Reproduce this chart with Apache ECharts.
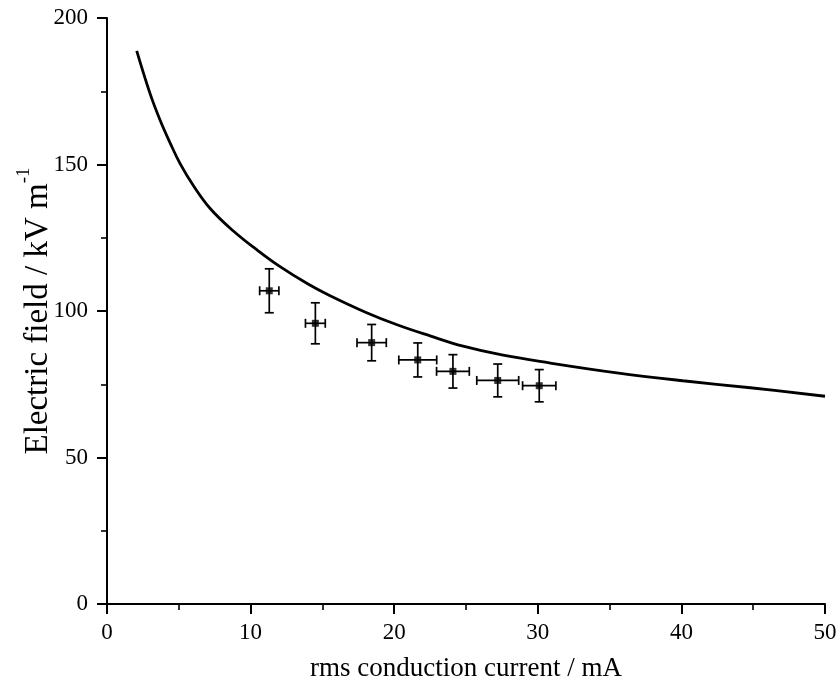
<!DOCTYPE html>
<html>
<head>
<meta charset="utf-8">
<script src="https://cdn.jsdelivr.net/npm/echarts@6/dist/echarts.min.js"></script>
<style>
html,body{margin:0;padding:0;background:#fff;}
#chart{width:838px;height:689px;}
</style>
</head>
<body>
<div id="chart"></div>
<script>
// Model curve
var curveX = [2.07, 3.0, 3.7, 4.4, 5.1, 6.0, 7.2, 8.8, 10.4, 12.0, 14.0, 15.5, 18.0, 20.2, 22.5, 24.8, 27.5, 30.8, 35.5, 40.1, 44.8, 50];
var curveY = [188.8, 174.2, 165.1, 157.3, 150.2, 142.9, 134.9, 127.3, 121.0, 115.3, 109.2, 105.3, 99.6, 95.3, 91.5, 88.0, 85.0, 82.3, 78.9, 76.2, 73.8, 70.9];

// Measured points
var measX = [11.30, 14.51, 18.43, 21.64, 24.09, 27.21, 30.10];
var measY = [106.9, 95.8, 89.2, 83.3, 79.4, 76.3, 74.5];
var errX  = [0.67, 0.69, 1.02, 1.32, 1.14, 1.46, 1.16];
var errY  = [7.5, 7.0, 6.2, 5.8, 5.7, 5.6, 5.5];

var xTicks = [0, 10, 20, 30, 40, 50];
var yTicks = [0, 50, 100, 150, 200];

var curveData = curveX.map(function (x, i) { return [x, curveY[i]]; });
var pointData = measX.map(function (x, i) { return [x, measY[i]]; });
var errData = measX.map(function (x, i) { return [x, measY[i], errX[i], errY[i]]; });

var FONT = '"Liberation Serif", "Times New Roman", serif';
var chart = echarts.init(document.getElementById('chart'), null, {renderer: 'canvas'});

function errRender(params, api) {
  var x = api.value(0), y = api.value(1), ex = api.value(2), ey = api.value(3);
  var l = api.coord([x - ex, y]), r = api.coord([x + ex, y]);
  var t = api.coord([x, y + ey]), b = api.coord([x, y - ey]);
  var cap = 4.5;
  var st = {stroke: '#000', lineWidth: 1.7};
  function ln(x1, y1, x2, y2) { return {type: 'line', shape: {x1: x1, y1: y1, x2: x2, y2: y2}, style: st}; }
  return {type: 'group', children: [
    ln(t[0], t[1], b[0], b[1]),
    ln(l[0], l[1], r[0], r[1]),
    ln(t[0] - cap, t[1], t[0] + cap, t[1]),
    ln(b[0] - cap, b[1], b[0] + cap, b[1]),
    ln(l[0], l[1] - cap, l[0], l[1] + cap),
    ln(r[0], r[1] - cap, r[0], r[1] + cap)
  ]};
}

chart.setOption({
  backgroundColor: '#fff',
  animation: false,
  grid: {left: 107, right: 13, top: 18, bottom: 85, containLabel: false, outerBoundsMode: 'none'},
  xAxis: {
    type: 'value', min: 0, max: 50, interval: 10,
    name: 'rms conduction current / mA', nameLocation: 'middle', nameGap: 51, nameMoveOverlap: false,
    nameTextStyle: {fontFamily: FONT, fontSize: 27, color: '#000'},
    axisLine: {show: true, onZero: false, lineStyle: {color: '#000', width: 2}},
    axisTick: {show: true, inside: false, length: 10, lineStyle: {color: '#000', width: 2}},
    minorTick: {show: true, splitNumber: 2, length: 6, lineStyle: {color: '#000', width: 1.6}},
    axisLabel: {fontFamily: FONT, fontSize: 23, color: '#000', margin: 17,
      formatter: function (v) { return xTicks.indexOf(v) >= 0 ? String(v) : ''; }},
    splitLine: {show: false}
  },
  yAxis: {
    type: 'value', min: 0, max: 200, interval: 50,
    name: '{a|Electric field / kV m}{s|-1}', nameLocation: 'middle', nameGap: 52, nameMoveOverlap: false,
    nameTextStyle: {fontFamily: FONT, fontSize: 33, color: '#000',
      rich: {a: {fontFamily: FONT, fontSize: 33, color: '#000', lineHeight: 40, verticalAlign: 'bottom'},
             s: {fontFamily: FONT, fontSize: 19, color: '#000', lineHeight: 40, verticalAlign: 'top'}}},
    axisLine: {show: true, onZero: false, lineStyle: {color: '#000', width: 2}},
    axisTick: {show: true, inside: false, length: 10, lineStyle: {color: '#000', width: 2}},
    minorTick: {show: true, splitNumber: 2, length: 6, lineStyle: {color: '#000', width: 1.6}},
    axisLabel: {fontFamily: FONT, fontSize: 23, color: '#000', margin: 19,
      formatter: function (v) { return yTicks.indexOf(v) >= 0 ? String(v) : ''; }},
    splitLine: {show: false}
  },
  series: [
    {type: 'line', data: curveData, smooth: 0.4, showSymbol: false, symbol: 'none',
     lineStyle: {color: '#000', width: 2.8}, z: 3},
    {type: 'custom', data: errData, renderItem: errRender, z: 4},
    {type: 'scatter', data: pointData, symbol: 'rect', symbolSize: 7,
     itemStyle: {color: '#000'}, z: 5}
  ]
});
</script>
</body>
</html>
